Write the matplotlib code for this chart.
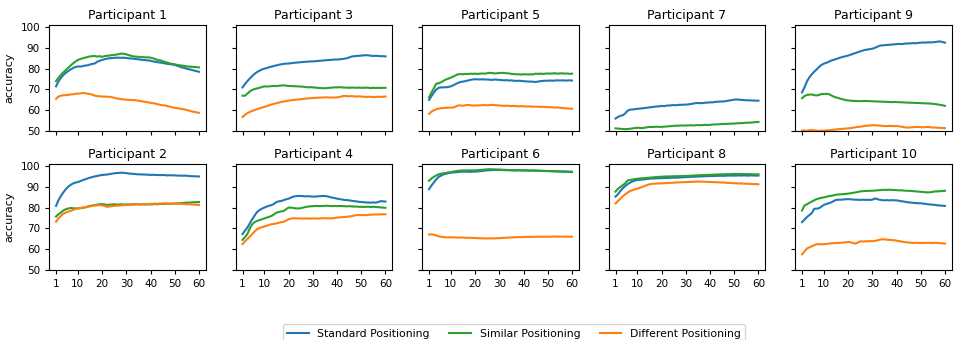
import numpy as np
import matplotlib
matplotlib.use("Agg")
import matplotlib.pyplot as plt

epochs = list(range(1, 61))
xtick_vals = [1, 10, 20, 30, 40, 50, 60]
ytick_vals = [50, 60, 70, 80, 90, 100]
series_names = ["Standard Positioning", "Similar Positioning", "Different Positioning"]
series_colors = ["#1f77b4", "#2ca02c", "#ff7f0e"]
panel_order = [1, 3, 5, 7, 9, 2, 4, 6, 8, 10]

p1_std = [71.5, 73.8, 75.6, 76.9, 78.0, 78.8, 79.6, 80.3, 80.8, 81.1,
          81.0, 81.2, 81.5, 81.6, 82.0, 82.3, 82.5, 83.3, 83.8, 84.2,
          84.5, 84.8, 85.0, 85.1, 85.2, 85.3, 85.3, 85.2, 85.3, 85.1,
          85.0, 84.9, 84.8, 84.6, 84.5, 84.3, 84.2, 84.1, 84.0, 83.8,
          83.5, 83.3, 83.1, 82.9, 82.8, 82.5, 82.3, 82.2, 82.0, 81.8,
          81.4, 81.0, 80.6, 80.3, 80.0, 79.7, 79.4, 79.1, 78.8, 78.5]
p1_sim = [74.0, 75.6, 77.0, 78.2, 79.3, 80.4, 81.5, 82.5, 83.4, 84.2,
          84.6, 85.0, 85.3, 85.6, 85.9, 86.0, 86.1, 85.8, 86.0, 85.7,
          86.0, 86.2, 86.3, 86.5, 86.6, 86.8, 87.0, 87.3, 87.1, 86.9,
          86.5, 86.2, 85.9, 85.8, 85.7, 85.5, 85.6, 85.4, 85.5, 85.3,
          85.0, 84.6, 84.2, 84.0, 83.6, 83.2, 82.9, 82.5, 82.3, 82.1,
          81.8, 81.6, 81.5, 81.3, 81.1, 81.0, 80.9, 80.8, 80.7, 80.6]
p1_diff = [65.5, 66.6, 67.0, 67.2, 67.3, 67.4, 67.6, 67.7, 67.9, 68.0,
           68.1, 68.3, 68.2, 68.0, 67.8, 67.5, 67.0, 66.8, 66.7, 66.6,
           66.6, 66.5, 66.5, 66.3, 66.0, 65.7, 65.5, 65.3, 65.2, 65.1,
           65.0, 64.9, 64.9, 64.8, 64.6, 64.4, 64.2, 64.0, 63.8, 63.6,
           63.4, 63.2, 62.9, 62.6, 62.4, 62.3, 62.0, 61.7, 61.4, 61.2,
           61.0, 60.8, 60.6, 60.4, 60.1, 59.8, 59.5, 59.2, 59.0, 58.8]

p2_std = [80.8, 83.5, 85.6, 87.3, 88.8, 90.0, 90.9, 91.6, 92.0, 92.3,
          92.7, 93.2, 93.6, 94.0, 94.4, 94.7, 95.0, 95.2, 95.5, 95.7,
          95.8, 95.9, 96.1, 96.3, 96.5, 96.6, 96.7, 96.8, 96.7, 96.6,
          96.4, 96.3, 96.2, 96.1, 96.0, 96.0, 95.9, 95.9, 95.8, 95.7,
          95.8, 95.7, 95.7, 95.6, 95.7, 95.6, 95.5, 95.6, 95.5, 95.5,
          95.4, 95.4, 95.3, 95.4, 95.3, 95.2, 95.1, 95.1, 95.0, 95.0]
p2_sim = [75.7, 76.8, 77.6, 78.6, 79.2, 79.6, 79.8, 79.7, 79.6, 79.6,
          79.7, 79.9, 80.1, 80.5, 80.8, 81.0, 81.2, 81.4, 81.6, 81.7,
          81.5, 81.3, 81.4, 81.5, 81.6, 81.4, 81.5, 81.6, 81.5, 81.5,
          81.6, 81.5, 81.6, 81.7, 81.6, 81.5, 81.6, 81.5, 81.6, 81.5,
          81.6, 81.7, 81.6, 81.8, 81.7, 81.8, 81.9, 81.8, 81.9, 81.9,
          82.0, 82.1, 82.2, 82.3, 82.4, 82.4, 82.5, 82.6, 82.6, 82.7]
p2_diff = [73.2, 74.8, 76.0, 77.0, 77.6, 78.1, 78.4, 78.9, 79.3, 79.6,
           79.8, 80.0, 80.2, 80.4, 80.6, 80.8, 81.0, 81.1, 81.2, 81.1,
           80.8, 80.4, 80.5, 80.7, 80.8, 80.9, 81.0, 81.1, 81.2, 81.3,
           81.3, 81.4, 81.4, 81.5, 81.5, 81.6, 81.6, 81.7, 81.7, 81.8,
           81.8, 81.9, 81.9, 81.9, 82.0, 82.0, 82.0, 81.9, 82.0, 82.0,
           81.9, 81.9, 81.8, 81.7, 81.6, 81.6, 81.5, 81.4, 81.4, 81.3]

p3_std = [71.0, 72.6, 74.0, 75.3, 76.5, 77.5, 78.4, 79.0, 79.6, 80.0,
          80.3, 80.7, 81.0, 81.3, 81.6, 81.9, 82.1, 82.3, 82.4, 82.5,
          82.6, 82.8, 82.9, 83.0, 83.1, 83.2, 83.3, 83.4, 83.5, 83.5,
          83.6, 83.7, 83.8, 83.9, 84.0, 84.1, 84.2, 84.3, 84.4, 84.4,
          84.5, 84.6, 84.8, 85.0, 85.4, 85.8, 86.0, 86.1, 86.2, 86.3,
          86.4, 86.5, 86.4, 86.2, 86.1, 86.2, 86.1, 86.0, 86.0, 85.9]
p3_sim = [67.0, 67.0, 68.0, 69.0, 69.8, 70.2, 70.5, 70.8, 71.2, 71.5,
          71.4, 71.5, 71.6, 71.7, 71.6, 71.8, 71.9, 72.0, 71.8, 71.7,
          71.6, 71.6, 71.5, 71.5, 71.4, 71.3, 71.2, 71.0, 71.1, 71.0,
          70.9, 70.8, 70.7, 70.6, 70.6, 70.7, 70.8, 70.9, 71.0, 71.0,
          71.1, 71.0, 70.9, 70.9, 70.8, 70.9, 70.9, 70.8, 70.9, 70.8,
          70.8, 70.9, 70.8, 70.7, 70.8, 70.7, 70.8, 70.7, 70.8, 70.8]
p3_diff = [56.8, 57.8, 58.6, 59.2, 59.7, 60.1, 60.5, 60.9, 61.3, 61.6,
           62.0, 62.4, 62.8, 63.1, 63.4, 63.7, 64.0, 64.2, 64.4, 64.6,
           64.8, 64.9, 65.1, 65.2, 65.3, 65.5, 65.6, 65.7, 65.8, 65.9,
           66.0, 66.0, 66.1, 66.1, 66.2, 66.2, 66.1, 66.2, 66.1, 66.2,
           66.4, 66.7, 66.9, 66.8, 66.7, 66.8, 66.7, 66.6, 66.7, 66.6,
           66.5, 66.4, 66.5, 66.4, 66.3, 66.4, 66.5, 66.4, 66.5, 66.6]

p4_std = [67.3, 68.9, 70.4, 72.4, 74.4, 76.2, 77.9, 78.8, 79.5, 80.0,
          80.5, 80.9, 81.2, 81.8, 82.7, 83.0, 83.2, 83.6, 84.0, 84.3,
          84.8, 85.3, 85.5, 85.6, 85.6, 85.5, 85.4, 85.5, 85.4, 85.3,
          85.3, 85.4, 85.5, 85.6, 85.6, 85.4, 85.1, 84.8, 84.6, 84.3,
          84.1, 83.9, 83.7, 83.6, 83.5, 83.3, 83.1, 83.0, 82.8, 82.7,
          82.6, 82.5, 82.4, 82.4, 82.5, 82.4, 82.7, 83.1, 83.0, 82.9]
p4_sim = [64.5, 65.8, 67.3, 70.0, 72.0, 73.0, 73.6, 74.0, 74.4, 74.8,
          75.2, 75.6, 76.0, 76.8, 77.6, 77.9, 78.2, 78.4, 79.2, 80.0,
          80.0, 79.8, 79.6, 79.6, 79.7, 80.0, 80.3, 80.5, 80.6, 80.7,
          80.8, 80.8, 80.7, 80.8, 80.8, 80.9, 80.8, 80.7, 80.8, 80.7,
          80.8, 80.7, 80.7, 80.6, 80.7, 80.6, 80.5, 80.5, 80.4, 80.4,
          80.3, 80.4, 80.4, 80.3, 80.4, 80.3, 80.2, 80.1, 80.0, 79.9]
p4_diff = [62.5, 63.7, 64.9, 66.1, 67.3, 68.5, 69.6, 70.2, 70.6, 70.9,
           71.3, 71.7, 72.0, 72.2, 72.4, 72.7, 73.0, 73.2, 73.8, 74.4,
           74.7, 74.9, 74.8, 74.8, 74.8, 74.7, 74.8, 74.8, 74.7, 74.8,
           74.8, 74.7, 74.8, 74.9, 74.9, 74.8, 74.9, 74.8, 75.0, 75.2,
           75.3, 75.4, 75.5, 75.6, 75.7, 75.9, 76.1, 76.4, 76.4, 76.4,
           76.4, 76.4, 76.5, 76.6, 76.7, 76.7, 76.7, 76.8, 76.8, 76.8]

p5_std = [65.0, 66.8, 68.5, 70.0, 70.8, 71.0, 71.0, 71.1, 71.2, 71.5,
          72.0, 72.6, 73.2, 73.6, 73.8, 74.0, 74.3, 74.6, 74.8, 74.9,
          74.9, 74.8, 74.9, 74.8, 74.8, 74.7, 74.6, 74.8, 74.7, 74.6,
          74.5, 74.4, 74.5, 74.3, 74.4, 74.2, 74.1, 74.2, 74.1, 74.0,
          73.9, 73.8, 73.8, 73.7, 73.6, 73.8, 74.0, 74.1, 74.2, 74.2,
          74.3, 74.2, 74.3, 74.4, 74.3, 74.4, 74.3, 74.3, 74.4, 74.3]
p5_sim = [66.2, 68.5, 70.6, 72.8, 73.0, 73.5, 74.2, 74.8, 75.2, 75.7,
          76.2, 76.8, 77.3, 77.4, 77.3, 77.5, 77.4, 77.6, 77.5, 77.6,
          77.5, 77.6, 77.7, 77.6, 77.8, 78.0, 77.9, 77.7, 77.8, 77.9,
          78.0, 77.9, 77.8, 77.7, 77.5, 77.4, 77.3, 77.3, 77.2, 77.3,
          77.3, 77.2, 77.3, 77.2, 77.6, 77.5, 77.6, 77.5, 77.6, 77.7,
          77.6, 77.7, 77.8, 77.6, 77.7, 77.8, 77.6, 77.7, 77.5, 77.6]
p5_diff = [58.3, 59.3, 60.0, 60.5, 60.8, 61.0, 61.1, 61.2, 61.2, 61.3,
           61.3, 61.8, 62.3, 62.3, 62.2, 62.4, 62.6, 62.4, 62.3, 62.3,
           62.3, 62.4, 62.4, 62.5, 62.4, 62.5, 62.6, 62.5, 62.4, 62.3,
           62.2, 62.1, 62.2, 62.1, 62.0, 62.1, 62.0, 61.9, 62.0, 61.9,
           61.8, 61.9, 61.8, 61.7, 61.8, 61.7, 61.6, 61.7, 61.6, 61.5,
           61.5, 61.4, 61.3, 61.4, 61.2, 61.1, 61.0, 60.9, 60.8, 60.7]

p6_std = [88.9, 90.6, 92.1, 93.6, 94.8, 95.4, 96.0, 96.3, 96.6, 96.8,
          96.9, 97.0, 97.1, 97.2, 97.3, 97.3, 97.3, 97.2, 97.3, 97.3,
          97.4, 97.5, 97.6, 97.8, 97.9, 98.0, 98.0, 98.1, 98.1, 98.1,
          98.1, 98.0, 98.0, 98.0, 97.9, 97.9, 97.9, 98.0, 97.9, 97.9,
          97.9, 97.8, 97.8, 97.8, 97.7, 97.7, 97.7, 97.6, 97.6, 97.6,
          97.6, 97.5, 97.5, 97.5, 97.4, 97.4, 97.4, 97.3, 97.3, 97.3]
p6_sim = [92.9, 94.0, 94.8, 95.5, 96.0, 96.3, 96.5, 96.7, 96.9, 97.1,
          97.3, 97.5, 97.7, 97.8, 97.9, 97.9, 97.9, 97.9, 97.9, 97.9,
          98.0, 98.1, 98.2, 98.3, 98.4, 98.5, 98.4, 98.4, 98.3, 98.3,
          98.2, 98.2, 98.1, 98.1, 98.0, 98.0, 97.9, 98.0, 97.9, 97.9,
          97.9, 97.8, 97.8, 97.9, 97.8, 97.8, 97.7, 97.7, 97.6, 97.6,
          97.5, 97.5, 97.4, 97.4, 97.3, 97.3, 97.2, 97.2, 97.1, 97.1]
p6_diff = [67.1, 67.1, 67.0, 66.6, 66.2, 66.0, 65.8, 65.7, 65.7, 65.7,
           65.7, 65.6, 65.6, 65.6, 65.6, 65.5, 65.5, 65.5, 65.4, 65.4,
           65.3, 65.3, 65.2, 65.2, 65.2, 65.2, 65.2, 65.2, 65.3, 65.3,
           65.4, 65.5, 65.5, 65.6, 65.7, 65.7, 65.8, 65.8, 65.8, 65.9,
           65.9, 65.9, 65.9, 65.9, 66.0, 66.0, 66.0, 66.0, 66.0, 66.0,
           66.0, 66.1, 66.1, 66.0, 66.1, 66.0, 66.1, 66.0, 66.0, 66.0]

p7_std = [56.0, 56.8, 57.3, 57.6, 58.5, 59.8, 60.3, 60.4, 60.5, 60.7,
          60.8, 60.9, 61.1, 61.2, 61.4, 61.5, 61.7, 61.8, 61.9, 62.1,
          62.0, 62.2, 62.3, 62.4, 62.5, 62.4, 62.6, 62.6, 62.7, 62.7,
          62.8, 63.0, 63.2, 63.4, 63.5, 63.4, 63.5, 63.6, 63.7, 63.8,
          63.8, 64.0, 64.1, 64.2, 64.2, 64.3, 64.5, 64.7, 64.9, 65.1,
          65.2, 65.1, 65.0, 64.9, 64.8, 64.8, 64.7, 64.7, 64.6, 64.6]
p7_sim = [51.3, 51.2, 51.1, 51.0, 50.9, 51.0, 51.1, 51.3, 51.4, 51.6,
          51.5, 51.4, 51.6, 51.8, 52.0, 51.9, 52.0, 52.1, 52.0, 52.0,
          52.1, 52.2, 52.3, 52.4, 52.5, 52.6, 52.6, 52.7, 52.6, 52.7,
          52.7, 52.8, 52.7, 52.8, 52.9, 52.8, 52.9, 53.0, 52.9, 53.0,
          53.1, 53.2, 53.2, 53.3, 53.4, 53.4, 53.5, 53.5, 53.6, 53.6,
          53.7, 53.8, 53.8, 53.9, 54.0, 54.0, 54.1, 54.2, 54.3, 54.4]
p7_diff = [46.0, 46.2, 46.3, 46.4, 46.5, 46.5, 46.6, 46.6, 46.7, 46.7,
           46.8, 46.8, 46.9, 46.9, 47.0, 47.0, 47.0, 47.1, 47.1, 47.1,
           47.2, 47.2, 47.2, 47.3, 47.3, 47.3, 47.3, 47.4, 47.4, 47.4,
           47.4, 47.5, 47.5, 47.5, 47.5, 47.5, 47.6, 47.6, 47.6, 47.6,
           47.6, 47.7, 47.7, 47.7, 47.7, 47.7, 47.8, 47.8, 47.8, 47.8,
           47.8, 47.8, 47.9, 47.9, 47.9, 47.9, 47.9, 47.9, 48.0, 48.0]

p8_std = [85.3, 86.4, 88.0, 89.3, 90.4, 91.3, 92.0, 92.6, 93.0, 93.3,
          93.4, 93.5, 93.6, 93.8, 93.9, 94.0, 94.0, 94.1, 94.1, 94.2,
          94.2, 94.3, 94.3, 94.4, 94.4, 94.4, 94.5, 94.5, 94.6, 94.7,
          94.7, 94.8, 94.8, 94.9, 94.9, 95.0, 95.0, 95.1, 95.1, 95.2,
          95.2, 95.2, 95.3, 95.3, 95.3, 95.3, 95.4, 95.4, 95.4, 95.4,
          95.4, 95.5, 95.4, 95.5, 95.4, 95.4, 95.5, 95.4, 95.4, 95.4]
p8_sim = [87.7, 89.1, 89.9, 90.8, 91.7, 93.1, 93.3, 93.5, 93.7, 93.9,
          94.0, 94.1, 94.2, 94.3, 94.4, 94.5, 94.6, 94.7, 94.8, 94.9,
          94.9, 95.0, 95.0, 95.0, 95.1, 95.1, 95.1, 95.2, 95.2, 95.2,
          95.3, 95.3, 95.4, 95.5, 95.5, 95.6, 95.6, 95.7, 95.7, 95.8,
          95.8, 95.9, 95.9, 96.0, 96.0, 96.0, 96.1, 96.1, 96.1, 96.2,
          96.2, 96.2, 96.1, 96.2, 96.1, 96.1, 96.1, 96.0, 96.0, 96.0]
p8_diff = [82.0, 83.2, 84.3, 85.5, 86.4, 87.2, 88.0, 88.4, 88.8, 89.1,
           89.5, 89.9, 90.4, 90.8, 91.2, 91.4, 91.5, 91.6, 91.6, 91.7,
           91.7, 91.8, 91.9, 91.9, 92.0, 92.1, 92.1, 92.2, 92.2, 92.3,
           92.3, 92.4, 92.4, 92.5, 92.5, 92.5, 92.5, 92.4, 92.4, 92.3,
           92.3, 92.2, 92.2, 92.1, 92.1, 92.0, 91.9, 91.9, 91.8, 91.7,
           91.7, 91.6, 91.6, 91.5, 91.5, 91.4, 91.4, 91.3, 91.3, 91.2]

p9_std = [68.6, 71.0, 73.8, 75.8, 77.3, 78.5, 79.6, 80.8, 81.8, 82.4,
          82.8, 83.3, 83.9, 84.2, 84.6, 85.0, 85.4, 85.7, 86.0, 86.3,
          86.7, 87.1, 87.5, 87.9, 88.3, 88.7, 89.0, 89.2, 89.4, 89.6,
          90.0, 90.5, 91.0, 91.2, 91.3, 91.4, 91.5, 91.6, 91.7, 91.8,
          91.9, 91.8, 92.0, 92.1, 92.1, 92.2, 92.3, 92.2, 92.4, 92.5,
          92.6, 92.5, 92.7, 92.6, 92.7, 92.8, 93.0, 93.1, 92.8, 92.5]
p9_sim = [65.8, 66.8, 67.4, 67.5, 67.6, 67.3, 67.1, 67.4, 67.8, 67.8,
          67.9, 67.8, 67.2, 66.6, 66.2, 65.9, 65.5, 65.2, 64.9, 64.7,
          64.6, 64.5, 64.5, 64.4, 64.4, 64.4, 64.5, 64.4, 64.4, 64.3,
          64.3, 64.2, 64.2, 64.1, 64.1, 64.0, 64.0, 63.9, 64.0, 63.9,
          63.9, 63.8, 63.8, 63.7, 63.7, 63.6, 63.6, 63.5, 63.5, 63.4,
          63.4, 63.3, 63.3, 63.2, 63.1, 63.0, 62.8, 62.6, 62.4, 62.1]
p9_diff = [50.2, 50.3, 50.1, 50.4, 50.5, 50.3, 50.2, 50.1, 50.2, 50.2,
           50.3, 50.4, 50.5, 50.6, 50.8, 50.9, 51.0, 51.1, 51.2, 51.3,
           51.4, 51.6, 51.8, 52.0, 52.1, 52.3, 52.5, 52.6, 52.7, 52.8,
           52.8, 52.7, 52.6, 52.5, 52.4, 52.4, 52.5, 52.4, 52.4, 52.4,
           52.3, 52.1, 51.9, 51.7, 51.7, 51.8, 51.9, 52.0, 52.0, 51.9,
           51.8, 51.9, 52.0, 51.8, 51.7, 51.7, 51.6, 51.5, 51.5, 51.4]

p10_std = [73.0, 74.2, 75.4, 76.4, 77.3, 79.4, 79.5, 79.7, 80.5, 81.3,
           81.7, 82.1, 82.5, 83.1, 83.7, 83.8, 83.8, 83.9, 84.0, 84.1,
           84.0, 83.9, 83.8, 83.8, 83.7, 83.8, 83.7, 83.8, 83.7, 83.8,
           84.4, 84.1, 83.8, 83.6, 83.5, 83.6, 83.5, 83.6, 83.5, 83.5,
           83.3, 83.1, 82.9, 82.7, 82.5, 82.4, 82.3, 82.2, 82.1, 82.1,
           81.9, 81.8, 81.6, 81.5, 81.4, 81.3, 81.1, 81.0, 80.9, 80.8]
p10_sim = [78.6, 81.0, 81.6, 82.3, 82.9, 83.5, 84.1, 84.4, 84.7, 84.9,
           85.2, 85.5, 85.7, 85.9, 86.2, 86.3, 86.4, 86.5, 86.6, 86.7,
           86.9, 87.1, 87.3, 87.5, 87.8, 87.9, 88.0, 88.0, 88.1, 88.1,
           88.2, 88.3, 88.4, 88.5, 88.6, 88.5, 88.6, 88.5, 88.5, 88.4,
           88.3, 88.3, 88.2, 88.1, 88.1, 88.0, 87.9, 87.8, 87.7, 87.6,
           87.5, 87.4, 87.3, 87.4, 87.6, 87.8, 87.8, 87.9, 88.0, 88.1]
p10_diff = [57.5, 58.9, 60.3, 60.9, 61.4, 61.9, 62.4, 62.4, 62.4, 62.4,
            62.5, 62.7, 62.8, 62.9, 63.0, 63.0, 63.1, 63.2, 63.3, 63.5,
            63.3, 63.0, 62.7, 63.2, 63.8, 63.7, 63.8, 63.8, 63.9, 63.8,
            64.0, 64.2, 64.5, 64.8, 64.7, 64.6, 64.5, 64.4, 64.3, 64.1,
            63.9, 63.7, 63.5, 63.3, 63.2, 63.1, 63.0, 63.1, 63.0, 63.0,
            63.0, 63.0, 63.1, 63.0, 63.0, 63.1, 63.0, 62.9, 62.8, 62.7]

data = {
    1: (p1_std, p1_sim, p1_diff), 2: (p2_std, p2_sim, p2_diff),
    3: (p3_std, p3_sim, p3_diff), 4: (p4_std, p4_sim, p4_diff),
    5: (p5_std, p5_sim, p5_diff), 6: (p6_std, p6_sim, p6_diff),
    7: (p7_std, p7_sim, p7_diff), 8: (p8_std, p8_sim, p8_diff),
    9: (p9_std, p9_sim, p9_diff), 10: (p10_std, p10_sim, p10_diff),
}

fig, axes = plt.subplots(2, 5, figsize=(9.55, 3.4), dpi=100, sharex=True, sharey=True)
fig.subplots_adjust(left=49/955, right=952/955, top=1-25/340, bottom=1-270/340,
                    wspace=0.188, hspace=0.31)

lines = []
for ax, pid in zip(axes.flat, panel_order):
    for vals, name, col in zip(data[pid], series_names, series_colors):
        ln, = ax.plot(epochs, vals, color=col, lw=1.5, label=name)
        if pid == 1:
            lines.append(ln)
    ax.set_title(f"Participant {pid}", fontsize=9, pad=4)
    ax.set_ylim(50, 101)
    ax.set_xlim(-1.9, 62.9)
    ax.set_xticks(xtick_vals)
    ax.set_yticks(ytick_vals)
    ax.tick_params(labelsize=7.5, length=3)
for r in range(2):
    axes[r, 0].set_ylabel("accuracy", fontsize=8)

fig.legend(lines, series_names, loc="upper center", bbox_to_anchor=(514/955, 1-321/340),
           ncol=3, fontsize=7.8, frameon=True, handlelength=2.0, columnspacing=1.8,
           borderaxespad=0.3)

fig.savefig("out.png", dpi=100)
